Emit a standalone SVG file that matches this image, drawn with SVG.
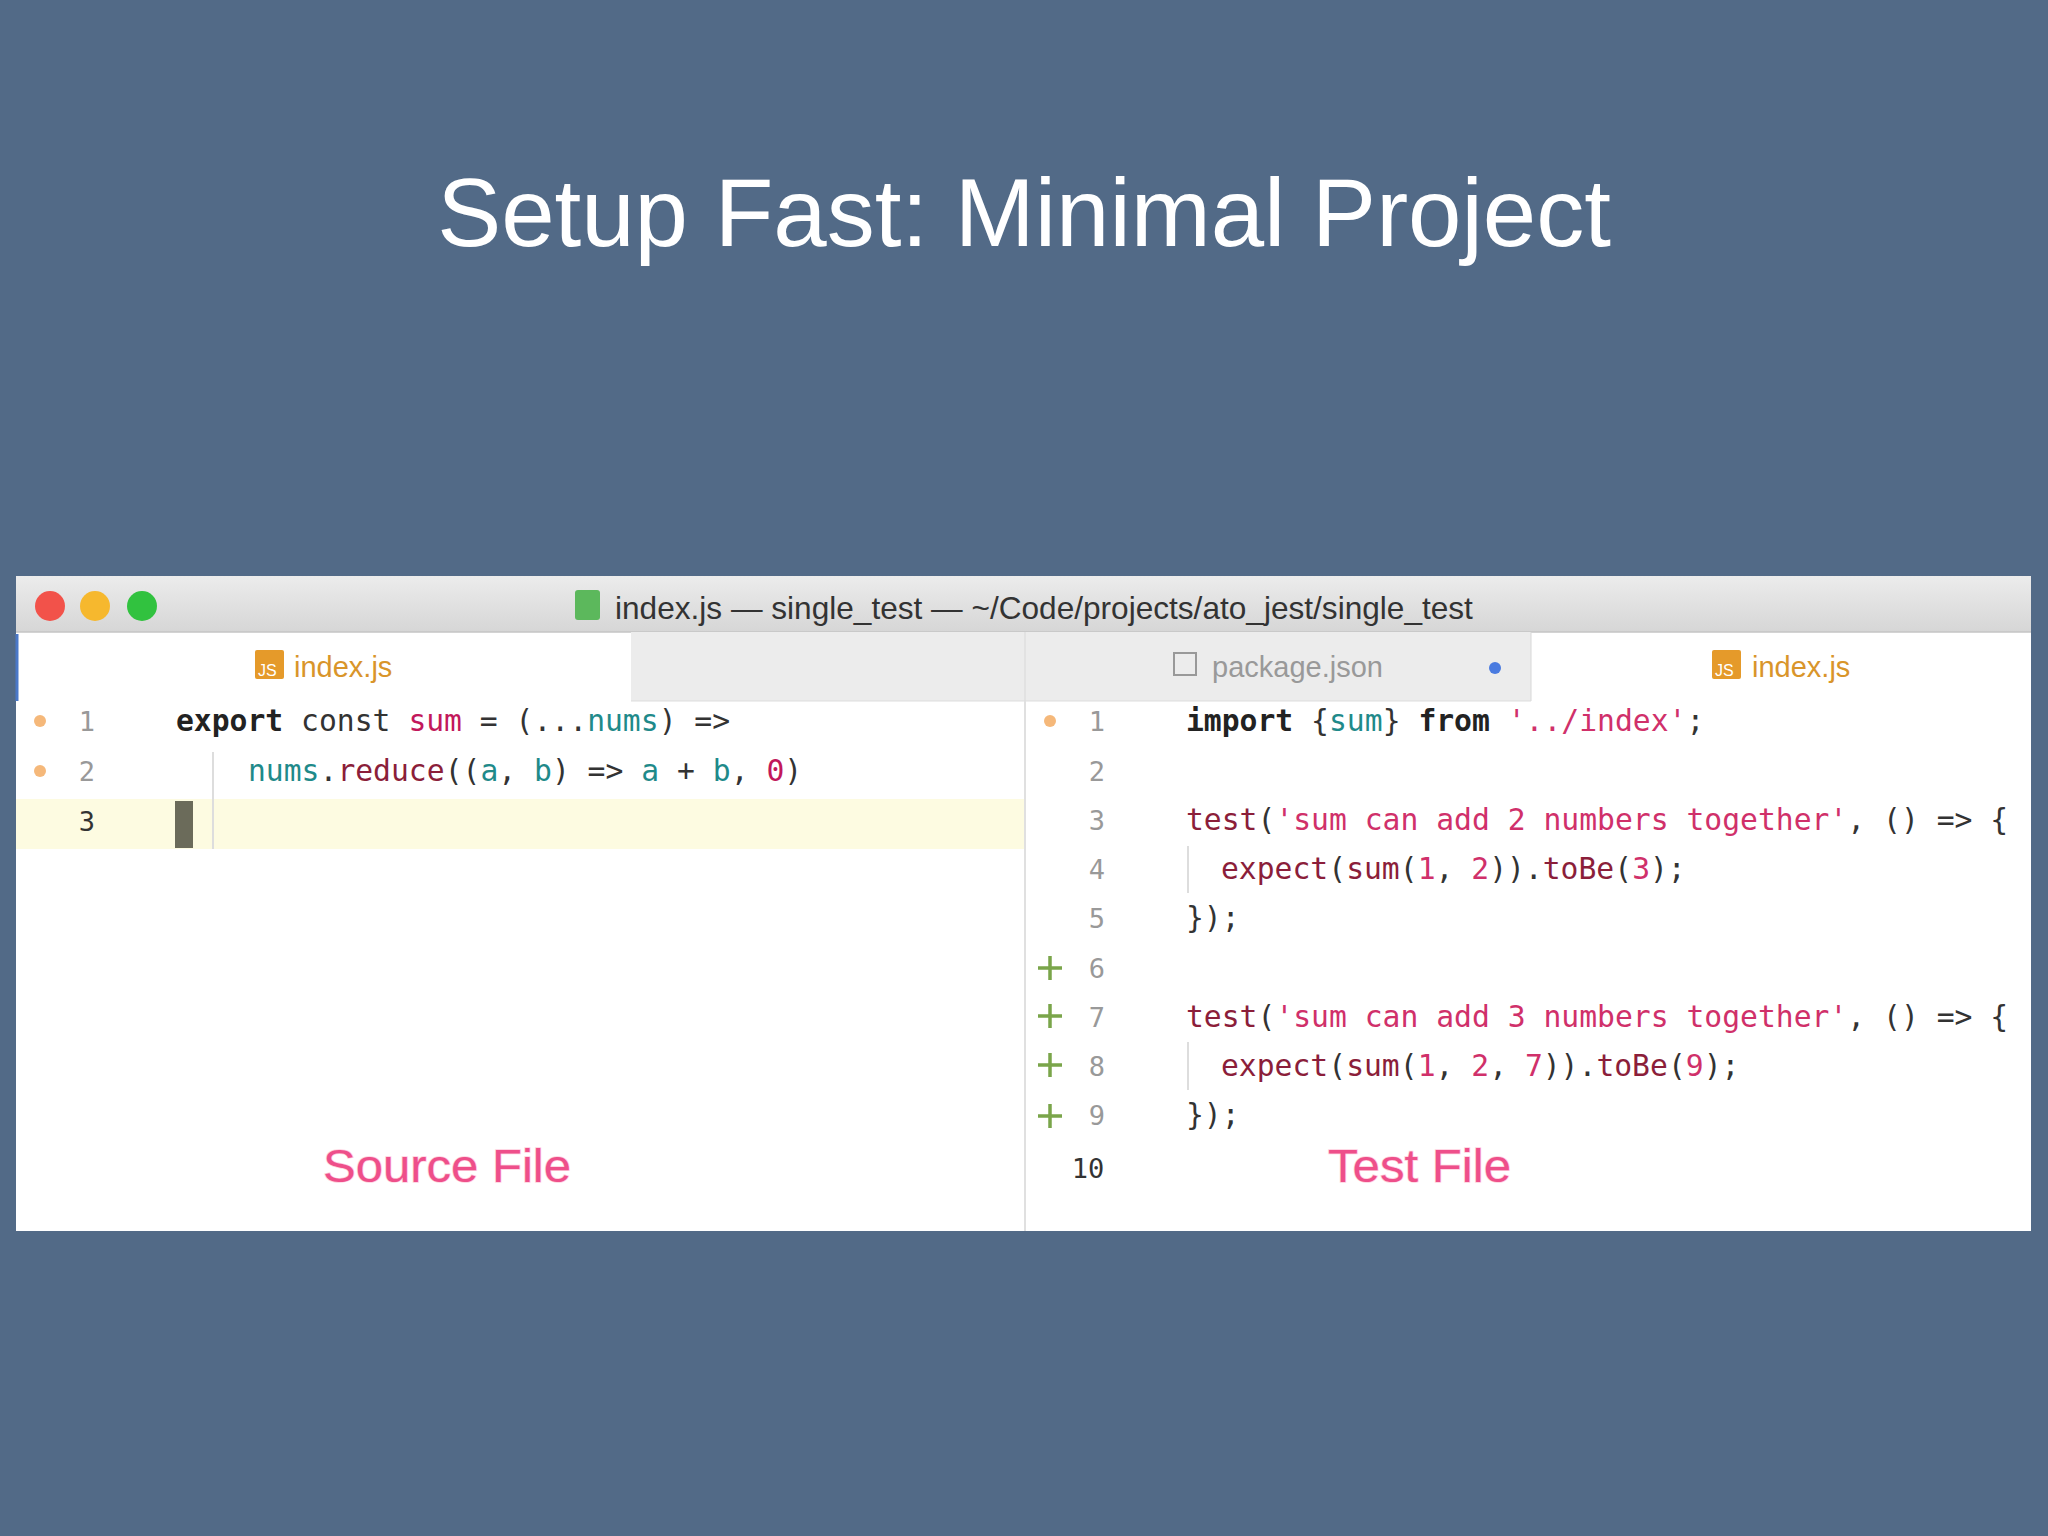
<svg xmlns="http://www.w3.org/2000/svg" width="2048" height="1536" viewBox="0 0 2048 1536">
<defs>
<linearGradient id="tb" x1="0" y1="0" x2="0" y2="1"><stop offset="0" stop-color="#ececec"/><stop offset="1" stop-color="#d6d6d6"/></linearGradient>
<style>
.code{font-family:"DejaVu Sans Mono",monospace;font-size:29.7px;fill:#333}
.ln{font-family:"DejaVu Sans Mono",monospace;font-size:27px;fill:#999;text-anchor:middle}
.kw{font-weight:bold;fill:#222}
.id{fill:#c2185b}
.v{fill:#1f8a8a}
.s{fill:#d0306a}
.f{fill:#8b1e3a}
.tab{font-family:"Liberation Sans",Arial,sans-serif;font-size:29px}
.lbl{font-family:"Liberation Sans",Arial,sans-serif;font-size:46px;fill:#ee4f8a;stroke:#ffd0e0;stroke-width:1.5;paint-order:stroke}
.plus{stroke:#7aa54a;stroke-width:3.5}
</style>
</defs>
<rect width="2048" height="1536" fill="#526a87"/>
<text x="1024" y="246" text-anchor="middle" font-family="Liberation Sans,Arial,sans-serif" font-size="96" fill="#ffffff">Setup Fast: Minimal Project</text>

<g id="window">
<rect x="16" y="576" width="2015" height="655" fill="#ffffff"/>
<rect x="16" y="576" width="2015" height="56" fill="url(#tb)"/>
<line x1="16" y1="632" x2="2031" y2="632" stroke="#c4c4c4" stroke-width="1.5"/>
<circle cx="50" cy="606" r="15" fill="#f2524a"/>
<circle cx="95" cy="606" r="15" fill="#f6b82e"/>
<circle cx="142" cy="606" r="15" fill="#31c23f"/>
<rect x="575" y="590" width="25" height="30" rx="3" fill="#5cb85c"/>
<text x="615" y="619" font-family="Liberation Sans,Arial,sans-serif" font-size="31.6" fill="#333">index.js — single_test — ~/Code/projects/ato_jest/single_test</text>
</g>

<g id="tabs">
<rect x="631" y="632" width="900" height="69" fill="#ececec"/>
<line x1="1025" y1="632" x2="1025" y2="701" stroke="#d8d8d8"/>
<line x1="1531" y1="632" x2="1531" y2="701" stroke="#d8d8d8"/>
<line x1="631" y1="701" x2="1531" y2="701" stroke="#dddddd"/>
<line x1="17" y1="634" x2="17" y2="701" stroke="#4a78c8" stroke-width="3"/>
<rect x="255" y="650" width="29" height="29" rx="2" fill="#e59a2a"/>
<text x="258" y="676" font-family="Liberation Sans,sans-serif" font-size="16" fill="#fff">JS</text>
<text x="294" y="677" class="tab" fill="#d9952a">index.js</text>
<rect x="1174" y="653" width="22" height="22" fill="none" stroke="#999" stroke-width="2"/>
<text x="1212" y="677" class="tab" fill="#999">package.json</text>
<circle cx="1495" cy="668" r="6" fill="#4a7be0"/>
<rect x="1712" y="650" width="29" height="29" rx="2" fill="#e59a2a"/>
<text x="1715" y="676" font-family="Liberation Sans,sans-serif" font-size="16" fill="#fff">JS</text>
<text x="1752" y="677" class="tab" fill="#d9952a">index.js</text>
</g>

<g id="source">
<line x1="1025" y1="701" x2="1025" y2="1231" stroke="#e0e0e0" stroke-width="2"/>
<rect x="16" y="799" width="1008" height="50" fill="#fdfbe1"/>
<rect x="175" y="801" width="18" height="47" fill="#6b6b5a"/>
<line x1="213" y1="752" x2="213" y2="849" stroke="#ddd" stroke-width="2"/>
<circle cx="40" cy="721" r="6" fill="#f5b87a"/>
<circle cx="40" cy="771" r="6" fill="#f5b87a"/>
<text x="87" y="731" class="ln">1</text>
<text x="87" y="781" class="ln">2</text>
<text x="87" y="831" class="ln" style="fill:#333">3</text>
<text x="176" y="731" class="code"><tspan class="kw">export</tspan> const <tspan class="id">sum</tspan> = (...<tspan class="v">nums</tspan>) =&gt;</text>
<text x="248" y="781" class="code"><tspan class="v">nums</tspan>.<tspan class="f">reduce</tspan>((<tspan class="v">a</tspan>, <tspan class="v">b</tspan>) =&gt; <tspan class="v">a</tspan> + <tspan class="v">b</tspan>, <tspan class="id">0</tspan>)</text>
<text x="323" y="1182" class="lbl" textLength="248" lengthAdjust="spacingAndGlyphs">Source File</text>
</g>

<g id="test">
<circle cx="1050" cy="721" r="6" fill="#f5b87a"/>
<g class="plus">
<path d="M1038 968h24M1050 956v24"/>
<path d="M1038 1016h24M1050 1004v24"/>
<path d="M1038 1065h24M1050 1053v24"/>
<path d="M1038 1116h24M1050 1104v24"/>
</g>
<text x="1097" y="731" class="ln">1</text>
<text x="1097" y="781" class="ln">2</text>
<text x="1097" y="830" class="ln">3</text>
<text x="1097" y="879" class="ln">4</text>
<text x="1097" y="928" class="ln">5</text>
<text x="1097" y="978" class="ln">6</text>
<text x="1097" y="1027" class="ln">7</text>
<text x="1097" y="1076" class="ln">8</text>
<text x="1097" y="1125" class="ln">9</text>
<text x="1088" y="1178" class="ln" style="fill:#333">10</text>
<line x1="1188" y1="846" x2="1188" y2="893" stroke="#ddd" stroke-width="2"/>
<line x1="1188" y1="1042" x2="1188" y2="1090" stroke="#ddd" stroke-width="2"/>
<text x="1186" y="731" class="code"><tspan class="kw">import</tspan> {<tspan class="v">sum</tspan>} <tspan class="kw">from</tspan> <tspan class="s">'../index'</tspan>;</text>
<text x="1186" y="830" class="code"><tspan class="f">test</tspan>(<tspan class="s">'sum can add 2 numbers together'</tspan>, () =&gt; {</text>
<text x="1221" y="879" class="code"><tspan class="f">expect</tspan>(<tspan class="f">sum</tspan>(<tspan class="s">1</tspan>, <tspan class="s">2</tspan>)).<tspan class="f">toBe</tspan>(<tspan class="s">3</tspan>);</text>
<text x="1186" y="928" class="code">});</text>
<text x="1186" y="1027" class="code"><tspan class="f">test</tspan>(<tspan class="s">'sum can add 3 numbers together'</tspan>, () =&gt; {</text>
<text x="1221" y="1076" class="code"><tspan class="f">expect</tspan>(<tspan class="f">sum</tspan>(<tspan class="s">1</tspan>, <tspan class="s">2</tspan>, <tspan class="s">7</tspan>)).<tspan class="f">toBe</tspan>(<tspan class="s">9</tspan>);</text>
<text x="1186" y="1125" class="code">});</text>
<text x="1328" y="1182" class="lbl" textLength="183" lengthAdjust="spacingAndGlyphs">Test File</text>
</g>
</svg>
